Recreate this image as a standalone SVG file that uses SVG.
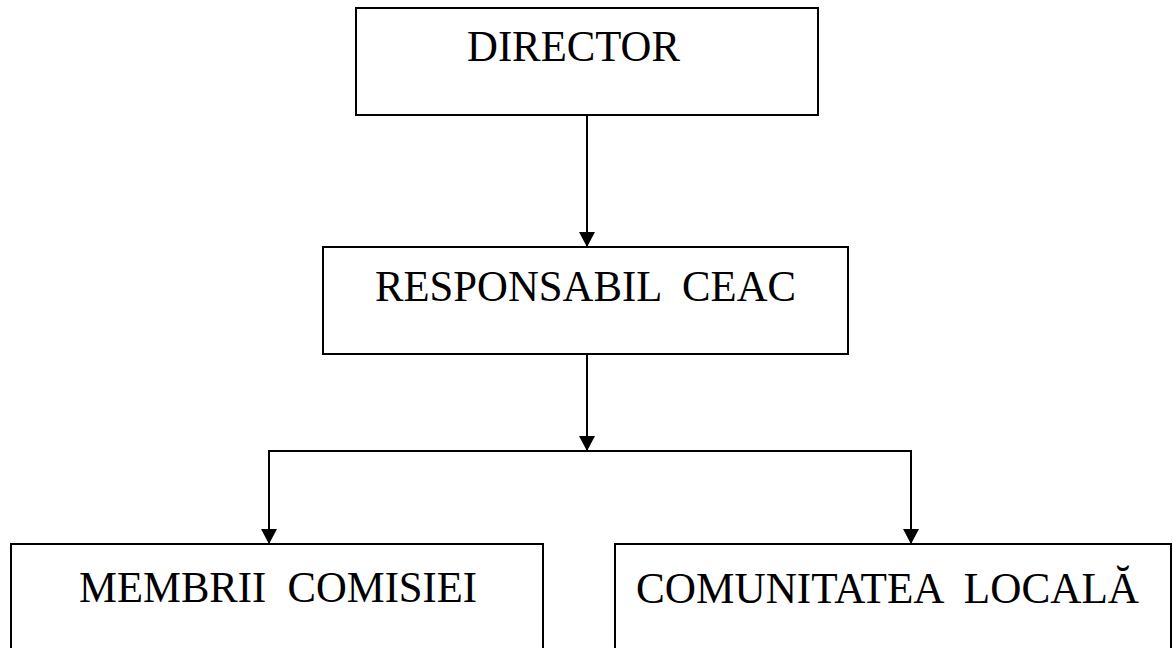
<svg xmlns="http://www.w3.org/2000/svg" width="1173" height="648" viewBox="0 0 1173 648">
<defs>
<style>
.box{fill:#fff;stroke:#000;stroke-width:2}
.lbl{font-family:"Liberation Serif","Times New Roman",serif;font-size:45px;fill:#000;white-space:pre}
.con{stroke:#000;stroke-width:2;fill:none}
</style>
<marker id="ah" markerUnits="userSpaceOnUse" markerWidth="16" markerHeight="16" viewBox="0 0 16 16" refX="15" refY="8" orient="auto">
<path d="M0,0 L15,8 L0,16 Z" fill="#000"/>
</marker>
</defs>
<rect width="1173" height="648" fill="#fff"/>
<g id="connectors">
<line class="con" x1="587" y1="115" x2="587" y2="247" marker-end="url(#ah)"/>
<line class="con" x1="587" y1="354" x2="587" y2="451" marker-end="url(#ah)"/>
<polyline class="con" points="269,544 269,451 911,451 911,544"/>
<line class="con" x1="269" y1="451" x2="269" y2="544" marker-end="url(#ah)"/>
<line class="con" x1="911" y1="451" x2="911" y2="544" marker-end="url(#ah)"/>
</g>
<g id="director">
<rect class="box" x="356" y="8" width="462" height="107"/>
<text class="lbl" x="467" y="61" textLength="213" lengthAdjust="spacingAndGlyphs">DIRECTOR</text>
</g>
<g id="responsabil">
<rect class="box" x="323" y="247" width="525" height="107"/>
<text class="lbl" x="375" y="301" xml:space="preserve" textLength="421" lengthAdjust="spacingAndGlyphs">RESPONSABIL  CEAC</text>
</g>
<g id="membrii">
<rect class="box" x="11" y="544" width="532" height="120"/>
<text class="lbl" x="79" y="602" xml:space="preserve" textLength="398" lengthAdjust="spacingAndGlyphs">MEMBRII  COMISIEI</text>
</g>
<g id="comunitatea">
<rect class="box" x="615" y="544" width="556" height="120"/>
<text class="lbl" x="636" y="603" xml:space="preserve" textLength="503" lengthAdjust="spacingAndGlyphs">COMUNITATEA  LOCALĂ</text>
</g>
</svg>
